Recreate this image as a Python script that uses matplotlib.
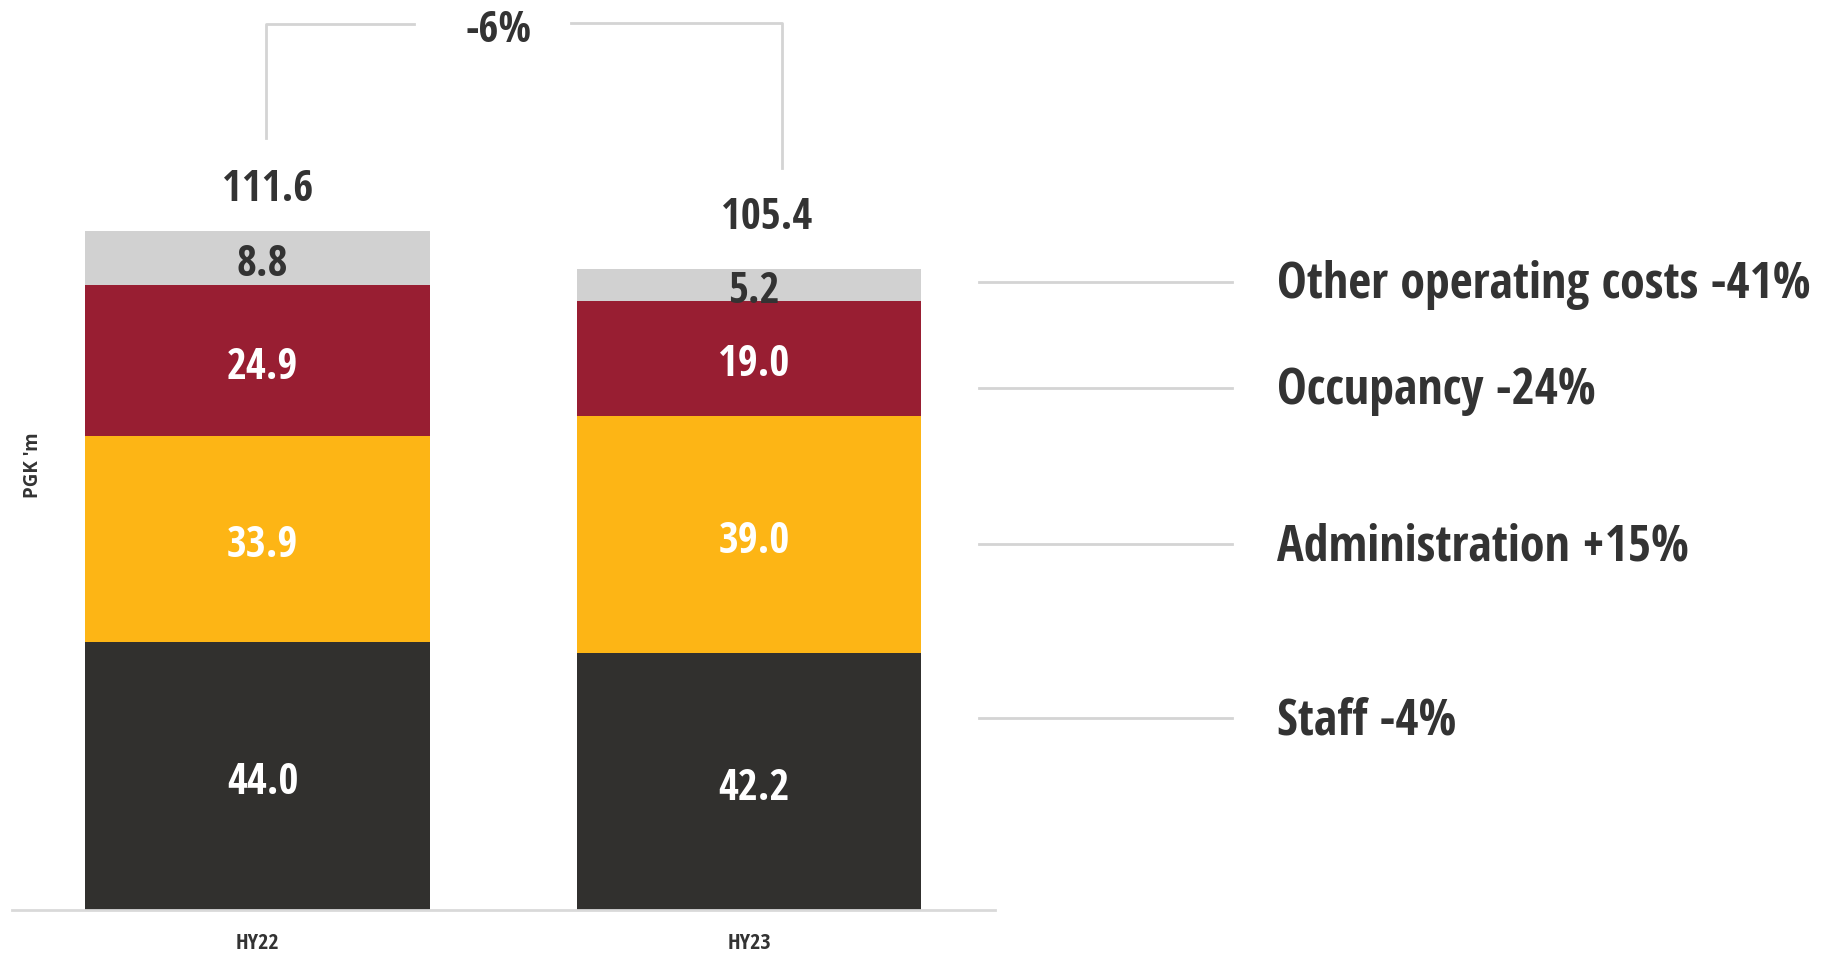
import matplotlib.pyplot as plt
import numpy as np

periods = ['HY22', 'HY23']
staff = [44.0, 42.2]
administration = [33.9, 39.0]
occupancy = [24.9, 19.0]
other_costs = [8.8, 5.2]
totals = [111.6, 105.4]
change_total = '-6%'
segment_names = ['Staff -4%', 'Administration +15%', 'Occupancy -24%', 'Other operating costs -41%']

colors = ['#31302e', '#fdb515', '#981e32', '#d1d1d1']
label_colors = ['white', 'white', 'white', '#333333']

plt.rcParams['font.family'] = ['Open Sans Condensed', 'DejaVu Sans']
plt.rcParams['font.weight'] = 'bold'

fig = plt.figure(figsize=(18.29, 9.54), dpi=100)
ax = fig.add_axes([0.0064, 0.0451, 0.5376, 0.9549])

dy = -0.9  # nudge text down so glyphs look centred

x = np.arange(len(periods))
series = [staff, administration, occupancy, other_costs]
bottom = np.zeros(len(periods))
for vals, col, lc in zip(series, colors, label_colors):
    vals = np.array(vals)
    bars = ax.bar(x, vals, bottom=bottom, width=0.7, color=col, zorder=2)
    for xi, b, v in zip(x, bottom, vals):
        ax.text(xi + 0.01, b + v / 2 + dy, '%.1f' % v, ha='center', va='center',
                fontsize=31, fontweight='bold', color=lc)
    bottom = bottom + vals

# totals above bars
offsets = [7.9, 9.6]
for xi, t, off in zip(x, totals, offsets):
    ax.text(xi + 0.02 + 0.015 * xi, t + off + dy, '%.1f' % t, ha='center', va='center',
            fontsize=31, fontweight='bold', color='#333333')

# bracket showing total change
gray = '#d4d4d4'
ax.plot([0.017, 0.017, 0.318], [126.9, 145.7, 145.7], color=gray, lw=2, clip_on=False)
ax.plot([0.638, 1.067, 1.067], [145.9, 145.9, 122.0], color=gray, lw=2, clip_on=False)
ax.text(0.49, 145.7 + dy, change_total, ha='center', va='center', fontsize=31,
        fontweight='bold', color='#333333')

# right hand segment labels
label_y = [31.5, 60.1, 85.8, 103.3]
for name, ly in zip(segment_names, label_y):
    ax.plot([1.468, 1.982], [ly, ly], color=gray, lw=2, clip_on=False)
    ax.text(2.074, ly - 0.3, name, ha='left', va='center', fontsize=36,
            fontweight='bold', color='#333333', clip_on=False)

ax.set_xlim(-0.5, 1.5)
ax.set_ylim(0, 149.8)
ax.set_xticks(x)
ax.set_xticklabels(periods, fontsize=16, fontweight='bold', color='#333333')
ax.tick_params(axis='x', length=0, pad=16)
ax.set_yticks([])
for s in ['top', 'right', 'left']:
    ax.spines[s].set_visible(False)
ax.spines['bottom'].set_color('#d9d9d9')
ax.spines['bottom'].set_linewidth(2)

fig.text(0.018, 0.512, "PGK 'm", rotation=90, ha='center', va='center',
         fontsize=13.5, fontweight='bold', color='#333333',
         family=['Open Sans', 'DejaVu Sans'])

plt.savefig('out.png', dpi=100)
